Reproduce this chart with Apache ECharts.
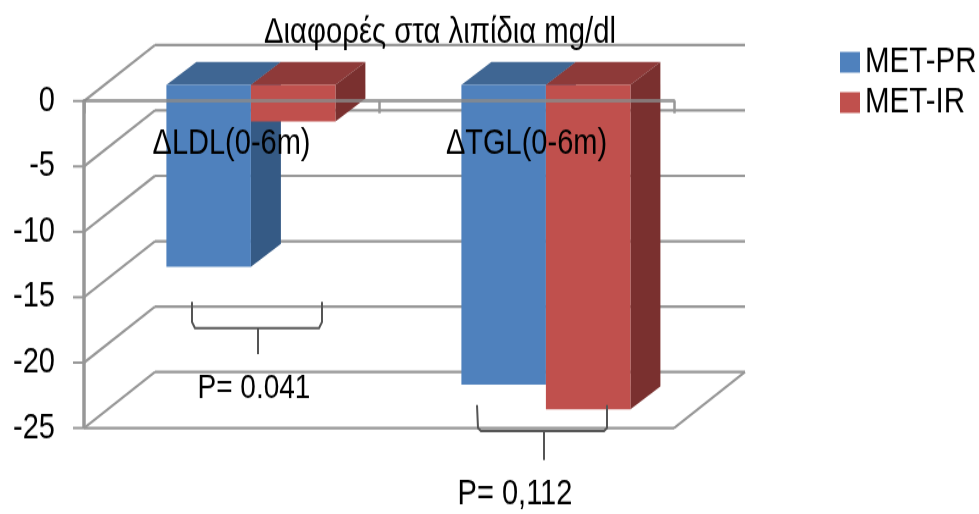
<!DOCTYPE html>
<html>
<head>
<meta charset="utf-8">
<style>html,body{margin:0;padding:0;background:#fff;width:979px;height:514px}
#w{width:979px;height:514px}
#c{width:979px;height:421px;transform:scaleY(1.2209);transform-origin:0 0}</style>
<script src="https://cdn.jsdelivr.net/npm/echarts@6/dist/echarts.min.js"></script>
</head>
<body>
<div id="w"><div id="c"></div></div>
<script>
const categories = ['ΔLDL(0-6m)', 'ΔTGL(0-6m)'];
const metPR = [-13.9, -22.9];
const metIR = [-2.8, -24.8];
const yTicks = [0, -5, -10, -15, -20, -25];
const FONT = '"Liberation Sans",Arial,sans-serif';
const SY = 514 / 421;   // the reference's text is tall and narrow: the canvas is stretched vertically
const WALL = [71, -56 / SY], BAR_SHIFT = [19.4, -16 / SY], BAR_DEPTH = [30, -23 / SY], BAR_W = 84.5;
const GREY = '#979797';

function wallItem(params, api) {
  const t = api.value(1), cs = params.coordSys;
  const y = api.coord([0, t])[1], x0 = cs.x, x1 = cs.x + cs.width;
  const bx = x0 + WALL[0], by = y + WALL[1], ex = x1 + WALL[0];
  const seg = (a, b, c, d) => ({type: 'line', shape: {x1: a, y1: b, x2: c, y2: d},
    style: {stroke: GREY, lineWidth: 2.2, fill: null}});
  const box = (x, yy, w, h) => ({type: 'polygon', shape: {points: [[x, yy], [x + w, yy], [x + w, yy + h], [x, yy + h]]},
    style: {fill: GREY}});
  const kids = [seg(x0, y, bx, by), seg(bx, by, ex, by), box(x0 - 11, y - 1, 11, 2)];
  if (t === -25) {
    const y0 = api.coord([0, 0])[1];
    kids.push(seg(x1, y, ex, by));
    kids.push(seg(x0, y, x1, y));
    kids.push(box(x0 - 1.5, y0, 3, y - y0));
  }
  return {type: 'group', children: kids};
}
function barItem(side, front, sideCol, topCol) {
  return function (params, api) {
    const top = api.coord([api.value(0), 0]);
    const bot = api.coord([api.value(0), api.value(1)]);
    const xa = top[0] + BAR_SHIFT[0] + (side < 0 ? -BAR_W : 0), xb = xa + BAR_W;
    const ya = top[1] + BAR_SHIFT[1], yb = bot[1] + BAR_SHIFT[1];
    const dx = BAR_DEPTH[0], dy = BAR_DEPTH[1];
    const poly = (pts, fill) => ({type: 'polygon', shape: {points: pts}, style: {fill: fill}});
    return {type: 'group', children: [
      poly([[xa, ya], [xb, ya], [xb + dx, ya + dy], [xa + dx, ya + dy]], topCol),
      poly([[xb, ya], [xb + dx, ya + dy], [xb + dx, yb + dy], [xb, yb]], sideCol),
      poly([[xa, ya], [xb, ya], [xb, yb], [xa, yb]], front)
    ]};
  };
}
const txt = (s, x, y, size) => ({type: 'text', x: x, y: y / SY, z: 20, style: {text: s, fill: '#000',
  font: size + 'px ' + FONT, textAlign: 'center', textVerticalAlign: 'middle'}});
const path = (pts) => ({type: 'polyline', z: 20, shape: {points: pts.map(p => [p[0], p[1] / SY])},
  style: {stroke: '#555', lineWidth: 2, fill: null}});

const chart = echarts.init(document.getElementById('c'), null, {renderer: 'canvas'});
chart.setOption({
  animation: false,
  backgroundColor: '#fff',
  title: {text: 'Διαφορές στα λιπίδια mg/dl', left: 435, textAlign: 'center', top: 7,
    textStyle: {fontFamily: FONT, fontSize: 29.3, fontWeight: 'normal', color: '#000'}},
  legend: {left: 835, top: 31, orient: 'vertical', icon: 'rect', itemWidth: 20, itemHeight: 17,
    itemGap: 3, itemStyle: {borderWidth: 0}, data: ['MET-PR', 'MET-IR'], selectedMode: false,
    textStyle: {fontFamily: FONT, fontSize: 29.5, color: '#000', lineHeight: 29}},
  grid: {left: 84, top: 101 / SY, width: 590, height: 327 / SY},
  xAxis: {type: 'category', data: categories, position: 'top', z: 10,
    axisLine: {show: true, onZero: false, lineStyle: {color: '#8a8a8a', width: 3, opacity: 0.8}},
    axisTick: {show: true, inside: true, length: 10, lineStyle: {color: GREY, width: 2.5}},
    axisLabel: {inside: true, margin: 21, fontFamily: FONT, fontSize: 29, color: '#000'},
    splitLine: {show: false}},
  yAxis: {type: 'value', min: -25, max: 0, interval: 5, position: 'left',
    axisLine: {show: false},
    axisTick: {show: false},
    axisLabel: {margin: 29, fontFamily: FONT, fontSize: 29, color: '#000'},
    splitLine: {show: false}},
  series: [
    {type: 'custom', name: 'walls', silent: true, z: 1, renderItem: wallItem,
      data: yTicks.map(t => [0, t])},
    {type: 'custom', name: 'MET-PR', z: 2, itemStyle: {color: '#4F81BD'},
      renderItem: barItem(-1, '#4F81BD', '#355A85', '#3F6693'),
      data: metPR.map((v, i) => [i, v])},
    {type: 'custom', name: 'MET-IR', z: 3, itemStyle: {color: '#C0504D'},
      renderItem: barItem(1, '#C0504D', '#7A302F', '#8E3A39'),
      data: metIR.map((v, i) => [i, v])}
  ],
  graphic: [
    path([[192, 302], [192, 322], [195, 328], [319, 328], [322, 322], [322, 302]]),
    path([[258, 328], [258, 354]]),
    path([[477, 405], [478, 428], [481, 431], [604, 431], [607, 428], [607, 405]]),
    path([[544, 431], [544, 460]]),
    {type: 'rect', z: 19, shape: {x: 82.5, y: 101 / SY, width: 3, height: 327 / SY}, style: {fill: GREY}},
    txt('P= 0.041', 254, 388, 28),
    txt('P= 0,112', 515, 495, 29)
  ]
});
</script>
</body>
</html>
